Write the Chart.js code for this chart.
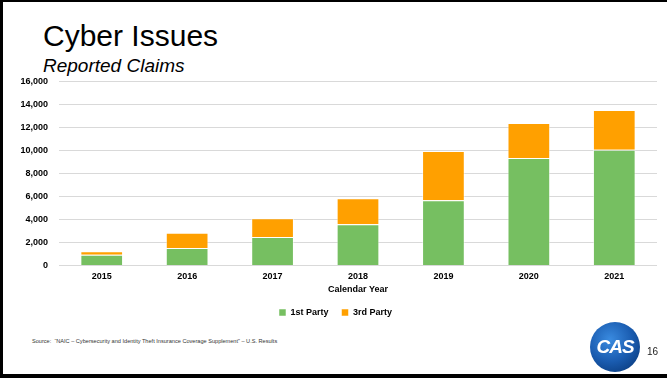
<!DOCTYPE html>
<html>
<head>
<meta charset="utf-8">
<title>Cyber Issues</title>
<script src="https://cdn.jsdelivr.net/npm/chart.js@4.4.1/dist/chart.umd.min.js"></script>
<style>
    body {
        margin: 0;
        width: 667px;
        height: 378px;
        background: #fff;
        font-family: "Liberation Sans", Arial, sans-serif;
        overflow: hidden;
    }
    .slide {
        position: absolute;
        left: 0;
        top: 0;
        width: 667px;
        height: 378px;
        box-sizing: border-box;
        border-top: 2px solid #000;
        border-left: 3px solid #000;
        border-bottom: 4px solid #000;
    }
    .title {
        position: absolute;
        left: 40px;
        top: 17px;
        font-size: 30px;
        color: #000;
    }
    .subtitle {
        position: absolute;
        left: 40px;
        top: 53px;
        font-size: 19px;
        font-style: italic;
        color: #000;
    }
    .chart-box {
        position: absolute;
        left: 11px;
        top: 63px;
        width: 653px;
        height: 264px;
    }
    .source {
        position: absolute;
        left: 29px;
        top: 336px;
        font-size: 5.6px;
        color: #333;
        white-space: nowrap;
    }
    .logo {
        position: absolute;
        left: 587px;
        top: 320px;
        width: 50px;
        height: 50px;
        border-radius: 50%;
        background: radial-gradient(circle at 40% 35%, #3a8be0 0%, #1a5cb0 50%, #0b3d80 85%, #dfe8f2 100%);
        color: #fff;
        font-weight: bold;
        font-style: italic;
        font-size: 19px;
        line-height: 50px;
        text-align: center;
        letter-spacing: -1px;
    }
    .page {
        position: absolute;
        left: 644px;
        top: 344px;
        font-size: 10px;
        color: #222;
    }
</style>
</head>
<body>
<div class="slide">
    <div class="title">Cyber Issues</div>
    <div class="subtitle">Reported Claims</div>
    <div class="chart-box"><canvas id="bar-chart"></canvas></div>
    <div class="source">Source:&nbsp; &ldquo;NAIC &ndash; Cybersecurity and Identity Theft Insurance Coverage Supplement&rdquo; &ndash; U.S. Results</div>
    <div class="logo">CAS</div>
    <div class="page">16</div>
</div>

<script>
// reported claims per calendar year
var years = ['2015', '2016', '2017', '2018', '2019', '2020', '2021'];
var firstParty = [930, 1510, 2460, 3580, 5670, 9330, 10060];
var thirdParty = [290, 1340, 1640, 2260, 4270, 3050, 3460];
var yTicks = [0, 2000, 4000, 6000, 8000, 10000, 12000, 14000, 16000];

var labelFont = {
    family: '"Liberation Sans", Arial, sans-serif',
    size: 9,
    weight: 'bold'
};

function makeBarChart(labels, data1, data2) {
    var ctx = document.getElementById('bar-chart');
    var chart = new Chart(ctx, {

        type: 'bar',

        data: {
            labels: labels,
            datasets: [{
                label: '1st Party',
                backgroundColor: '#76BF61',
                borderColor: 'rgba(255, 255, 255, 0.5)',
                borderWidth: 1,
                data: data1
            }, {
                label: '3rd Party',
                backgroundColor: '#FFA000',
                borderColor: 'rgba(255, 255, 255, 0.5)',
                borderWidth: 1,
                data: data2
            }]
        },

        options: {
            responsive: true,
            maintainAspectRatio: false,
            animation: false,
            layout: {
                padding: { top: 6, right: 10, left: 0, bottom: 2 }
            },
            datasets: {
                bar: {
                    barPercentage: 0.5,
                    categoryPercentage: 1
                }
            },
            plugins: {
                tooltip: { enabled: false },
                legend: {
                    position: 'bottom',
                    labels: {
                        color: '#000',
                        font: labelFont,
                        boxWidth: 7,
                        boxHeight: 7,
                        padding: 13
                    }
                }
            },
            scales: {
                x: {
                    stacked: true,
                    grid: { display: false, drawTicks: false },
                    border: { display: false },
                    ticks: {
                        color: '#000',
                        font: labelFont,
                        padding: 6
                    },
                    title: {
                        display: true,
                        text: 'Calendar Year',
                        color: '#000',
                        font: labelFont,
                        padding: { top: -4, bottom: 0 }
                    }
                },
                y: {
                    stacked: true,
                    min: 0,
                    max: 16000,
                    afterBuildTicks: function (scale) {
                        scale.ticks = yTicks.map(function (v) { return { value: v }; });
                    },
                    afterFit: function (scale) {
                        scale.width = 45;
                    },
                    grid: {
                        color: '#d9d9d9',
                        lineWidth: 1,
                        drawTicks: false
                    },
                    border: { display: false },
                    ticks: {
                        color: '#000',
                        font: labelFont,
                        padding: 11,
                        callback: function (value) {
                            return value.toLocaleString('en-US');
                        }
                    }
                }
            }
        }
    });
    return chart;
}

makeBarChart(years, firstParty, thirdParty);
</script>
</body>
</html>
